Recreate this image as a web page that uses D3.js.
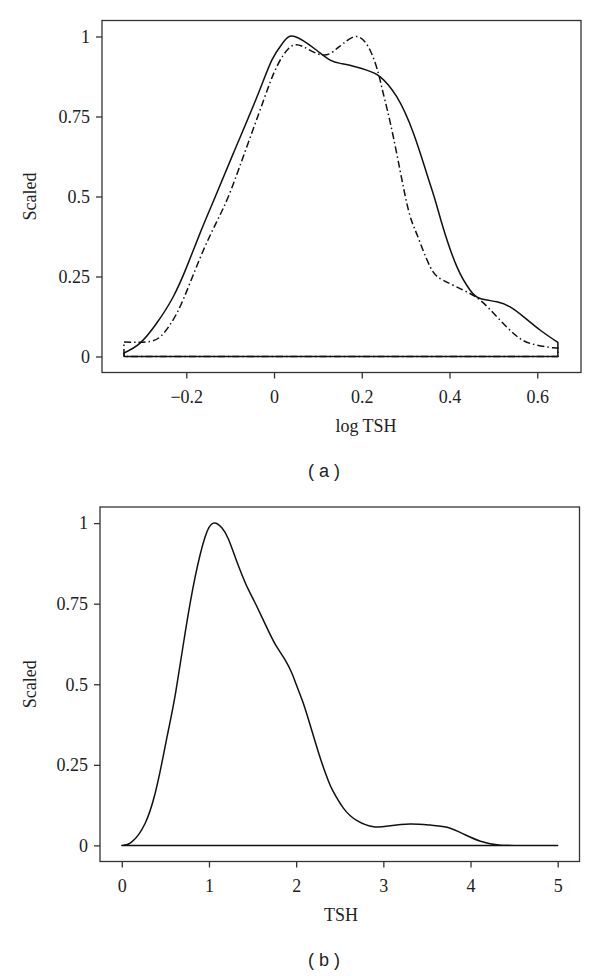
<!DOCTYPE html>
<html>
<head>
<meta charset="utf-8">
<script src="https://cdn.jsdelivr.net/npm/d3@7"></script>
<style>
  body { margin: 0; background: #fff; }
  svg text { font-family: "Liberation Serif", "Times New Roman", Times, serif; fill: #222; }
  svg text.panel-tag { font-family: "Liberation Sans", Arial, sans-serif; }
</style>
</head>
<body>
<script>
//============================================================
// Data

// (a) log TSH, two scaled densities
var aSolidX = [-0.342, -0.306, -0.268, -0.23, -0.199, -0.169, -0.138, -0.093, -0.039, -0.005, 0.02, 0.047,
               0.097, 0.128, 0.151, 0.173, 0.211, 0.242, 0.28, 0.318, 0.348, 0.367, 0.386, 0.417, 0.447,
               0.47, 0.508, 0.538, 0.569, 0.607, 0.647];
var aSolidY = [0.011, 0.041, 0.103, 0.186, 0.28, 0.384, 0.486, 0.634, 0.811, 0.926, 0.98, 1.0,
               0.957, 0.926, 0.916, 0.91, 0.895, 0.874, 0.811, 0.697, 0.572, 0.49, 0.40, 0.28, 0.207,
               0.181, 0.171, 0.155, 0.124, 0.082, 0.044];

var aDashX = [-0.342, -0.283, -0.252, -0.222, -0.192, -0.161, -0.131, -0.104, -0.07, -0.024, 0.006, 0.036,
              0.067, 0.112, 0.143, 0.158, 0.189, 0.219, 0.238, 0.249, 0.272, 0.303, 0.325, 0.356, 0.386,
              0.432, 0.47, 0.508, 0.546, 0.584, 0.637, 0.647];
var aDashY = [0.045, 0.047, 0.072, 0.134, 0.228, 0.332, 0.42, 0.50, 0.625, 0.80, 0.905, 0.966,
              0.968, 0.942, 0.962, 0.978, 1.0, 0.957, 0.884, 0.822, 0.686, 0.477, 0.384, 0.28, 0.238,
              0.207, 0.176, 0.124, 0.072, 0.041, 0.027, 0.027];

// (b) TSH, one scaled density
var bX = [0, 0.115, 0.267, 0.382, 0.459, 0.535, 0.62, 0.727, 0.842, 0.956, 1.05, 1.15, 1.224, 1.30, 1.378,
          1.45, 1.53, 1.683, 1.78, 1.875, 1.95, 2.0, 2.07, 2.142, 2.22, 2.296, 2.37, 2.42, 2.544, 2.698,
          2.889, 3.08, 3.31, 3.54, 3.731, 3.922, 4.114, 4.305, 4.5, 5];
var bY = [0, 0.011, 0.068, 0.161, 0.255, 0.358, 0.478, 0.66, 0.834, 0.958, 1.0, 0.985, 0.95, 0.895, 0.84,
          0.795, 0.752, 0.665, 0.615, 0.575, 0.535, 0.5, 0.45, 0.39, 0.32, 0.255, 0.2, 0.17, 0.115, 0.077,
          0.058, 0.061, 0.066, 0.063, 0.056, 0.035, 0.013, 0.002, 0, 0];

var yTicks = [0, 0.25, 0.5, 0.75, 1];
var yTickLabels = ["0", "0.25", "0.5", "0.75", "1"];
var aXTicks = [-0.2, 0, 0.2, 0.4, 0.6];
var aXTickLabels = ["\u22120.2", "0", "0.2", "0.4", "0.6"];
var bXTicks = [0, 1, 2, 3, 4, 5];
var bXTickLabels = ["0", "1", "2", "3", "4", "5"];

//============================================================
// SVG
var svg = d3.select("body")
  .append("svg")
  .attr("width", 600)
  .attr("height", 976);

function zip(xs, ys) {
  return xs.map(function (x, i) { return [x, ys[i]]; });
}

var serif = "'Liberation Serif', 'Times New Roman', Times, serif";

// one framed panel with a density outline (polygon closed on the baseline)
function panel(opt) {
  var x = d3.scaleLinear().domain(opt.xDomain).range([opt.left, opt.right]);
  var y = d3.scaleLinear().domain([-0.05, 1.05]).range([opt.bottom, opt.top]);

  var g = svg.append("g");

  var area = d3.area()
    .x(function (d) { return x(d[0]); })
    .y0(y(0))
    .y1(function (d) { return y(d[1]); })
    .curve(d3.curveNatural);

  opt.series.forEach(function (s) {
    g.append("path")
      .datum(zip(s.x, s.y))
      .attr("d", area)
      .attr("fill", "none")
      .attr("stroke", "#111")
      .attr("stroke-width", 1.5)
      .attr("stroke-linejoin", "round")
      .attr("stroke-dasharray", s.dash || null);
  });

  // frame
  g.append("rect")
    .attr("x", opt.left).attr("y", opt.top)
    .attr("width", opt.right - opt.left)
    .attr("height", opt.bottom - opt.top)
    .attr("fill", "none")
    .attr("stroke", "#333")
    .attr("stroke-width", 1.3);

  var yAxis = g.append("g")
    .attr("transform", "translate(" + opt.left + ",0)")
    .call(d3.axisLeft(y).tickValues(yTicks)
      .tickFormat(function (d, i) { return yTickLabels[i]; })
      .tickSize(6).tickPadding(6));

  var xAxis = g.append("g")
    .attr("transform", "translate(0," + opt.bottom + ")")
    .call(d3.axisBottom(x).tickValues(opt.xTicks)
      .tickFormat(function (d, i) { return opt.xTickLabels[i]; })
      .tickSize(6).tickPadding(12));

  [yAxis, xAxis].forEach(function (ax) {
    ax.select(".domain").remove();
    ax.selectAll(".tick line").attr("stroke", "#333").attr("stroke-width", 1.3);
    ax.selectAll(".tick text")
      .style("font-family", serif)
      .style("font-size", "18px")
      .style("fill", "#222");
  });

  // axis titles
  g.append("text")
    .attr("x", opt.xTitleX)
    .attr("y", opt.bottom + 59)
    .attr("text-anchor", "middle")
    .style("font-family", serif)
    .style("font-size", "18px")
    .text(opt.xTitle);

  g.append("text")
    .attr("transform", "translate(36," + ((opt.top + opt.bottom) / 2) + ") rotate(-90)")
    .attr("text-anchor", "middle")
    .style("font-family", serif)
    .style("font-size", "18px")
    .text("Scaled");

  g.append("text")
    .attr("class", "panel-tag")
    .attr("x", 324)
    .attr("y", opt.tagY)
    .attr("text-anchor", "middle")
    .style("font-size", "18px")
    .text(opt.tag);
}

//============================================================
// (a)
panel({
  xDomain: [-0.3921, 0.6997],
  left: 102, right: 581, top: 20.5, bottom: 372.5,
  xTicks: aXTicks, xTickLabels: aXTickLabels,
  xTitle: "log TSH", xTitleX: 366,
  tag: "( a )", tagY: 477,
  series: [
    { x: aSolidX, y: aSolidY },
    { x: aDashX, y: aDashY, dash: "7,3,1.5,3" }
  ]
});

// (b)
panel({
  xDomain: [-0.25, 5.25],
  left: 100, right: 579.5, top: 507, bottom: 861.5,
  xTicks: bXTicks, xTickLabels: bXTickLabels,
  xTitle: "TSH", xTitleX: 341,
  tag: "( b )", tagY: 966,
  series: [
    { x: bX, y: bY }
  ]
});
</script>
</body>
</html>
